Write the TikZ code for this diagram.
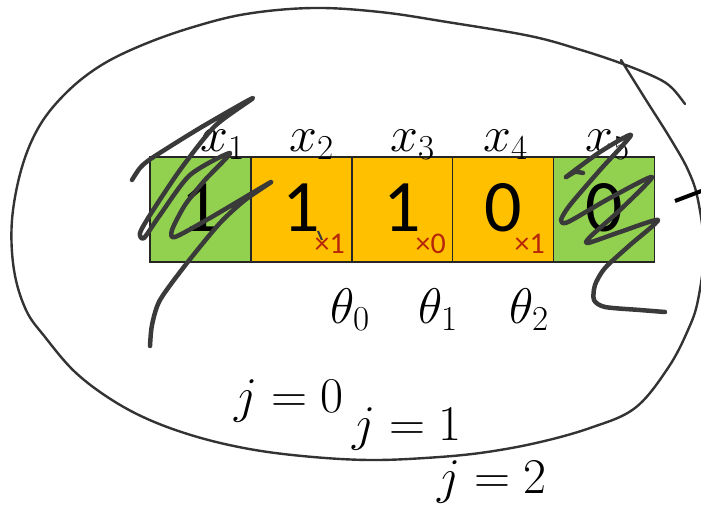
\documentclass[tikz,border=0pt]{standalone}
\usepackage{fix-cm}
\usepackage{fontspec}
\newfontfamily\calib{Carlito}
\DeclareMathSizes{50}{50}{35}{25}
\definecolor{cgreen}{HTML}{92D050}
\definecolor{corange}{HTML}{FFC000}
\definecolor{cred}{HTML}{B8260A}
\definecolor{cpen}{HTML}{3A3A3A}
\definecolor{cloop}{HTML}{333333}
\tikzset{
  cell/.style={draw=black!85, line width=1.8pt, minimum width=101pt, minimum height=105pt, inner sep=0pt, outer sep=0pt},
  digit/.style={anchor=base, inner sep=0pt, font=\calib\fontsize{74}{78}\selectfont},
  mult/.style={anchor=base east, inner sep=0pt, text=cred, font=\calib\fontsize{30}{34}\selectfont},
  lab/.style={anchor=base west, inner sep=0pt, font=\fontsize{50}{60}\selectfont},
  scribble/.style={draw=cpen, line width=4.5pt, line cap=round, line join=round},
  loop/.style={draw=cloop, line width=2.4pt, line cap=round, line join=round}
}
\begin{document}
\begin{tikzpicture}[x=1pt,y=-1pt]
\useasboundingbox (0,0) rectangle (701,505);
\clip (0,0) rectangle (701,505);
% cells
\node[cell, fill=cgreen] (c1) at (200.5,209.5) {};
\node[cell, fill=corange] (c2) at (301.5,209.5) {};
\node[cell, fill=corange] (c3) at (402.5,209.5) {};
\node[cell, fill=corange] (c4) at (503,209.5) {};
\node[cell, fill=cgreen] (c5) at (604,209.5) {};
% digits
\node[digit] (d1) at (200.5,231) {1};
\node[digit] (d2) at (301.5,231) {1};
\node[digit] (d3) at (402.5,231) {1};
\node[digit] (d4) at (503,231) {0};
\node[digit] (d5) at (604,231) {0};
% multipliers
\node[mult] (m2) at (345,253) {×1};
\node[mult] (m3) at (446,253) {×0};
\node[mult] (m4) at (545,253) {×1};
% labels x
\node[lab] (x1) at (200,152) {$x_1$};
\node[lab] (x2) at (289,152) {$x_2$};
\node[lab] (x3) at (390,152) {$x_3$};
\node[lab] (x4) at (483,152) {$x_4$};
\node[lab] (x5) at (585,152) {$x_5$};
% theta
\node[lab] (t0) at (330,323) {$\theta_0$};
\node[lab] (t1) at (418,323) {$\theta_1$};
\node[lab] (t2) at (509,323) {$\theta_2$};
% j labels
\node[lab] (j0) at (234,412) {$j=0$};
\node[lab] (j1) at (352,440) {$j=1$};
\node[lab] (j2) at (437,493) {$j=2$};
% big loop
\draw[loop] plot[smooth, tension=0.6] coordinates {
 (685,104) (672,88) (657,78) (623,64) (581,50) (530,36) (447,22) (380,12) (313,8)
 (246,14) (190,28) (140,46) (100,66) (67,92) (40,125) (22,167) (12,220) (14,270)
 (26,310) (45,337) (75,372) (112,400) (152,421) (201,438) (255,450) (313,457)
 (370,460) (425,458) (480,453) (536,443) (590,428) (635,408) (668,368) (688,330)
 (698,300) (704,250) (698,200) (688,170) (670,138) (646,100) (621,60)};
% black tick at right
\draw[draw=black, line width=4pt] (675,201) -- (704,190);
% left scribble
\draw[scribble] plot[smooth, tension=0.45] coordinates {
 (132,180) (140,168) (152,158) (200,128) (253,98)
 (215,126) (180,170) (150,215) (140,233) (144,238) (160,215) (190,175) (230,153)
 (205,180) (185,205) (172,230) (175,237) (210,218) (271,182)
 (245,200) (220,223) (187,263) (160,300) (152,325) (150,346)};
% right scribble
\draw[scribble] plot[smooth, tension=0.45] coordinates {
 (583,173) (575,172) (566,177) (600,152) (631,135)
 (600,170) (570,205) (561,220) (568,222) (610,198) (652,177)
 (620,210) (590,237) (588,243) (620,232) (658,220)
 (630,245) (605,268) (595,285) (594,300) (605,307) (640,310) (665,312)};
% tiny mark
\draw[draw=cpen, line width=2pt] (318,231) -- (322,240);
\end{tikzpicture}
\end{document}
